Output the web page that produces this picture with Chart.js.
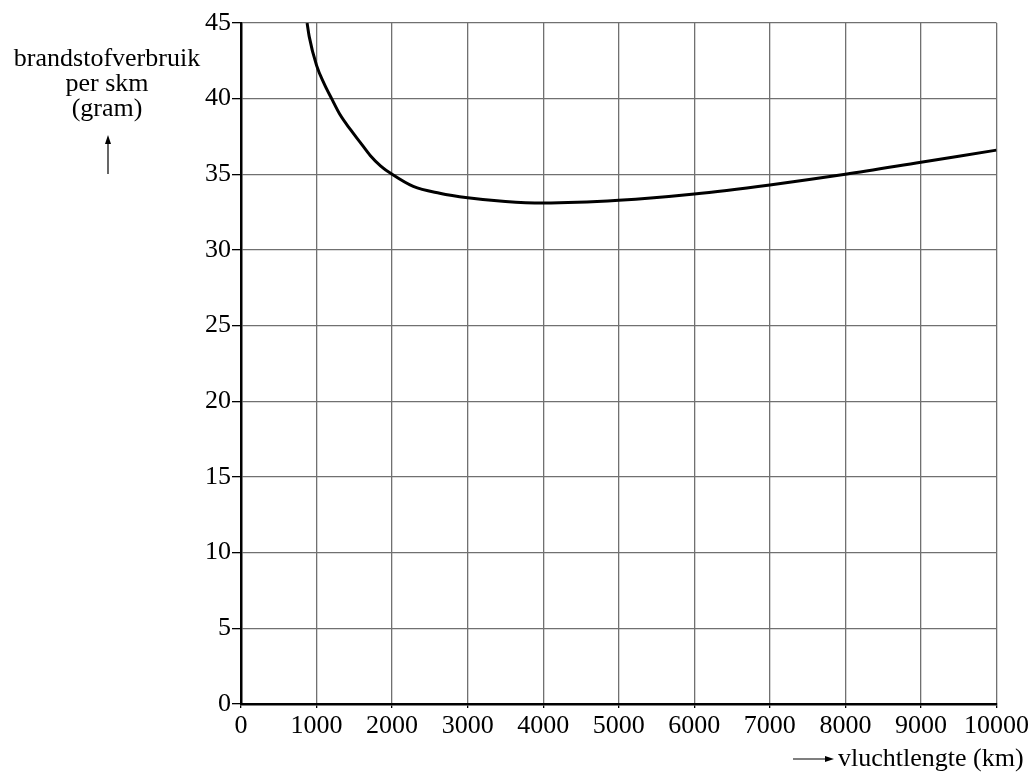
<!DOCTYPE html>
<html lang="nl">
<head>
  <meta charset="UTF-8" />
  <title>Brandstofverbruik per skm</title>
  <script src="https://cdn.jsdelivr.net/npm/chart.js"></script>
  <style>
    html, body { margin: 0; padding: 0; background: #fff; }
    #chart { display: block; }
  </style>
</head>
<body>
  <canvas id="chart" width="1032" height="772"></canvas>
  <script>
    const distance = [875, 903, 1000, 1100, 1200, 1310, 1450, 1580, 1710, 1850, 2000, 2280, 2630, 3000, 3500, 4000, 5000, 6000, 7000, 8000, 9000, 10000];
    const consumption = [45, 44.1, 42.2, 41.0, 40, 38.95, 37.95, 37.1, 36.25, 35.55, 35, 34.2, 33.75, 33.45, 33.2, 33.1, 33.28, 33.7, 34.3, 35.0, 35.8, 36.6];
    const yLabelLines = ['brandstofverbruik', 'per skm', '(gram)'];
    const xLabel = 'vluchtlengte (km)';

    const font = "'Liberation Serif', 'Times New Roman', serif";

    const labelsPlugin = {
      id: 'axisLabels',
      afterDraw(chart) {
        const ctx = chart.ctx;
        ctx.save();
        ctx.fillStyle = '#000';
        ctx.strokeStyle = '#000';
        ctx.font = '26px ' + font;
        ctx.textAlign = 'center';
        ctx.textBaseline = 'alphabetic';
        yLabelLines.forEach((t, i) => ctx.fillText(t, 107, 66 + i * 25));
        // up arrow
        ctx.lineWidth = 1.2;
        ctx.beginPath();
        ctx.moveTo(108, 174); ctx.lineTo(108, 141); ctx.stroke();
        ctx.beginPath();
        ctx.moveTo(108, 135); ctx.lineTo(105, 144); ctx.lineTo(111, 144); ctx.closePath(); ctx.fill();
        // x label with right arrow
        ctx.textAlign = 'left';
        ctx.fillText(xLabel, 838, 766);
        ctx.beginPath();
        ctx.moveTo(793, 759); ctx.lineTo(826, 759); ctx.stroke();
        ctx.beginPath();
        ctx.moveTo(834, 759); ctx.lineTo(825, 756); ctx.lineTo(825, 762); ctx.closePath(); ctx.fill();
        ctx.restore();
      }
    };

    new Chart(document.getElementById('chart'), {
      type: 'line',
      data: {
        datasets: [{
          data: distance.map((d, i) => ({ x: d, y: consumption[i] })),
          borderColor: '#000',
          borderWidth: 3,
          pointRadius: 0,
          fill: false,
          cubicInterpolationMode: 'monotone'
        }]
      },
      options: {
        responsive: false,
        animation: false,
        layout: { padding: { left: 0, top: 23, right: 35, bottom: 0 } },
        plugins: { legend: { display: false }, tooltip: { enabled: false } },
        scales: {
          x: {
            type: 'linear',
            min: 0, max: 10000,
            afterFit: s => { s.height = 68; },
            border: { color: '#000', width: 2.5 },
            grid: { color: '#707070', lineWidth: 1.3, tickColor: '#000', tickLength: 4 },
            ticks: {
              stepSize: 1000, color: '#000', padding: 3, maxRotation: 0,
              font: { family: font, size: 26 },
              callback: v => String(v)
            }
          },
          y: {
            min: 0, max: 45,
            afterFit: s => { s.width = 241; },
            border: { color: '#000', width: 2.5 },
            grid: { color: '#707070', lineWidth: 1.3, tickColor: '#000', tickLength: 9 },
            ticks: { stepSize: 5, color: '#000', padding: 1, font: { family: font, size: 26 } }
          }
        }
      },
      plugins: [labelsPlugin]
    });
  </script>
</body>
</html>
